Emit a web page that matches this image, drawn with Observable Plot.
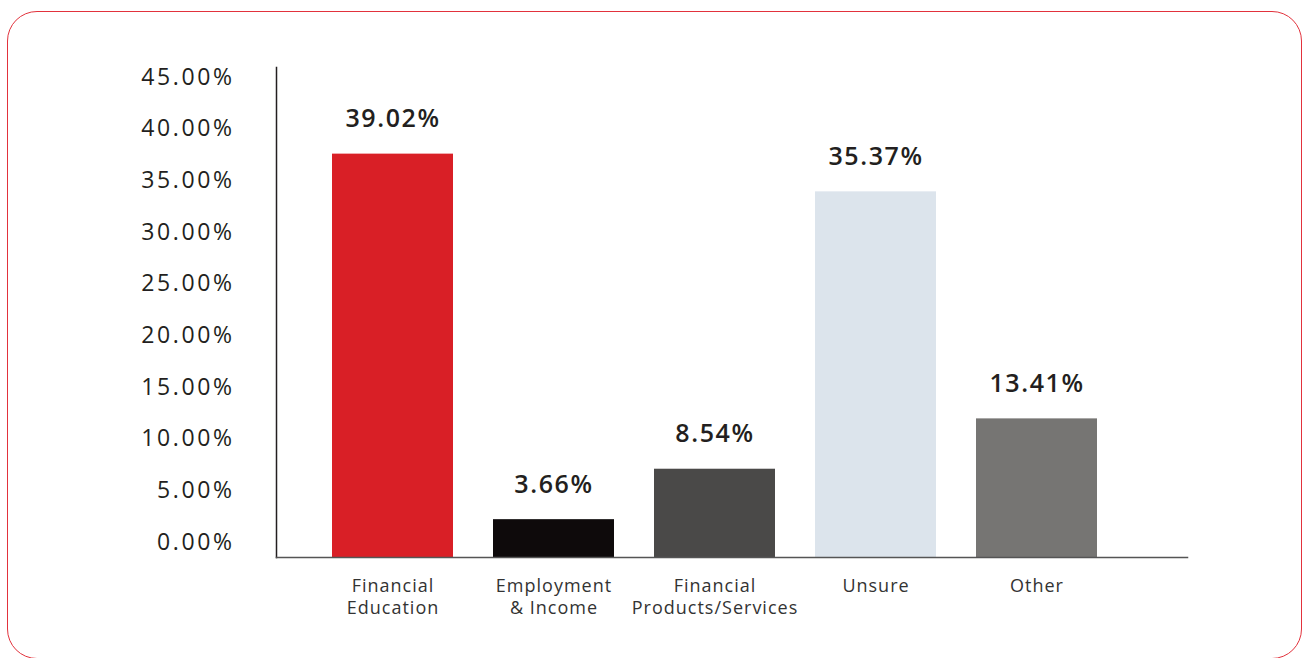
<!DOCTYPE html>
<html>
<head>
<meta charset="utf-8">
<script src="https://cdn.jsdelivr.net/npm/d3@7"></script>
<script src="https://cdn.jsdelivr.net/npm/@observablehq/plot@0.6"></script>
<style>
  html, body { margin: 0; padding: 0; background: #fff; }
  body { width: 1302px; height: 658px; position: relative; overflow: hidden; font-family: "Open Sans", sans-serif; }
  #border { position: absolute; left: 7px; top: 11px; width: 1295px; height: 648px; border: 1.5px solid #e2323c; border-radius: 30px; box-sizing: border-box; }
  #chart { position: absolute; left: 0; top: 0; }
  #chart g[aria-label="y-axis tick label"] text { letter-spacing: 2.6px; }
  #chart g[aria-label="x-axis tick label"] text { letter-spacing: 1px; }
  #chart g[aria-label="text"] text { letter-spacing: 1.6px; }
</style>
</head>
<body>
<div id="border"></div>
<div id="chart"></div>
<script>
const categories = ["Financial Education", "Employment & Income", "Financial Products/Services", "Unsure", "Other"];
const tickLabels = ["Financial\nEducation", "Employment\n& Income", "Financial\nProducts/Services", "Unsure", "Other"];
const values = [39.02, 3.66, 8.54, 35.37, 13.41];
const barColors = ["#d91f26", "#0e0a0b", "#4a4948", "#dce4ec", "#767573"];
const yTicks = [0, 5, 10, 15, 20, 25, 30, 35, 40, 45];

const data = categories.map((c, i) => ({category: c, value: values[i]}));
const labelOf = new Map(categories.map((c, i) => [c, tickLabels[i]]));

const chart = Plot.plot({
  width: 1302,
  height: 658,
  marginLeft: 276,
  marginRight: 115,
  marginTop: 67,
  marginBottom: 101,
  style: {fontFamily: "'Open Sans', sans-serif", background: "transparent"},
  x: {domain: categories, range: [330, 1099], paddingInner: 0.25, paddingOuter: 0},
  y: {domain: [0, 47.4]},
  color: {domain: categories, range: barColors},
  marks: [
    Plot.barY(data, {x: "category", y: "value", fill: "category"}),
    Plot.text(data, {x: "category", y: "value", text: d => d.value.toFixed(2) + "%", dy: -35, fontSize: 25, fontWeight: 600, fill: "#231f20"}),
    Plot.axisY({ticks: yTicks, tickSize: 0, tickPadding: 42, dy: -15, fontSize: 23, fill: "#231f20", tickFormat: d => d.toFixed(2) + "%", label: null}),
    Plot.axisX({tickSize: 0, tickPadding: 19, fontSize: 18, fill: "#333", tickFormat: d => labelOf.get(d), lineHeight: 1.22, label: null}),
    Plot.frame({anchor: "left", stroke: "#231f20", strokeWidth: 1.5}),
    Plot.frame({anchor: "bottom", stroke: "#555", strokeWidth: 1.5})
  ]
});
document.getElementById("chart").appendChild(chart);
</script>
</body>
</html>
